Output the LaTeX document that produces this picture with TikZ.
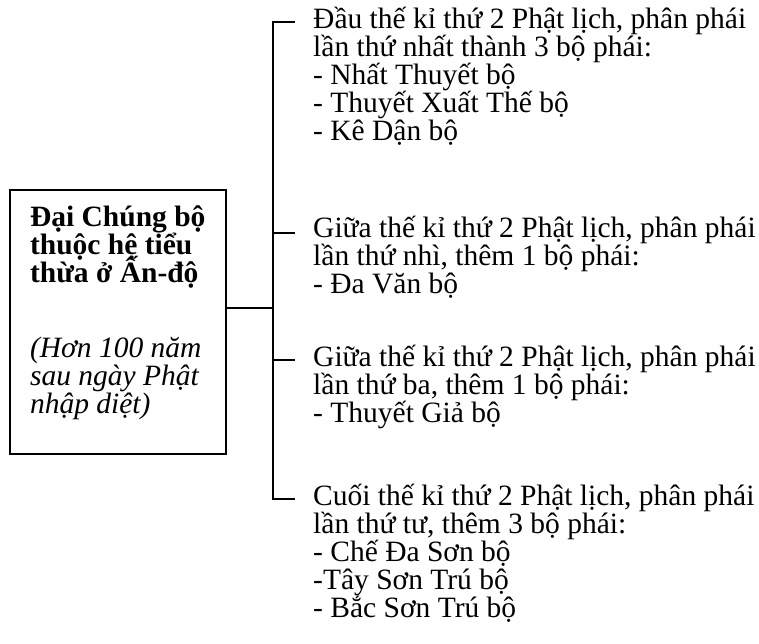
\documentclass[tikz,border=0pt]{standalone}
\usepackage{fontspec}
\setmainfont{Liberation Serif}
\usetikzlibrary{positioning}
\newcommand{\treefont}{\fontsize{29.5pt}{28pt}\selectfont\lineskiplimit=-100pt\relax}

\begin{document}
\begin{tikzpicture}[
    x=1pt, y=-1pt,
    rootbox/.style={
        rectangle,
        draw=black,
        line width=2pt,
        align=left,
        inner xsep=19.5pt,
        inner ysep=0pt,
        minimum width=216.5pt,
        anchor=north west,
        font=\treefont
    },
    branch/.style={
        rectangle,
        inner sep=0pt,
        align=left,
        anchor=north west,
        font=\treefont
    },
    link/.style={
        line width=2pt,
        black
    }
]
\useasboundingbox (0,0) rectangle (759,644);

% Root: Dai Chung bo
\node[rootbox] (root) at (8.5,189) {
    \rule{0pt}{36.7pt}\textbf{Đại Chúng bộ}\\
    \textbf{thuộc hệ tiểu}\\
    \textbf{thừa ở Ấn-độ}\\[47pt]
    \textit{(Hơn 100 năm}\\
    \textit{sau ngày Phật}\\
    \textit{nhập diệt)}\rule[-40pt]{0pt}{0pt}
};

% Branch 1: lan thu nhat
\node[branch] (first) at (313,-1.7) {
    \rule{0pt}{30pt}Đầu thế kỉ thứ 2 Phật lịch, phân phái\\
    lần thứ nhất thành 3 bộ phái:\\
    - Nhất Thuyết bộ\\
    - Thuyết Xuất Thế bộ\\
    - Kê Dận bộ
};

% Branch 2: lan thu nhi
\node[branch] (second) at (313,207.7) {
    \rule{0pt}{30pt}Giữa thế kỉ thứ 2 Phật lịch, phân phái\\
    lần thứ nhì, thêm 1 bộ phái:\\
    - Đa Văn bộ
};

% Branch 3: lan thu ba
\node[branch] (third) at (313,336.7) {
    \rule{0pt}{30pt}Giữa thế kỉ thứ 2 Phật lịch, phân phái\\
    lần thứ ba, thêm 1 bộ phái:\\
    - Thuyết Giả bộ
};

% Branch 4: lan thu tu
\node[branch] (fourth) at (313,475) {
    \rule{0pt}{30pt}Cuối thế kỉ thứ 2 Phật lịch, phân phái\\
    lần thứ tư, thêm 3 bộ phái:\\
    - Chế Đa Sơn bộ\\
    -Tây Sơn Trú bộ\\
    - Bắc Sơn Trú bộ
};

% Bracket points
\coordinate (join) at (273,308);
\coordinate (tip1) at (273,22);
\coordinate (tip2) at (273,233);
\coordinate (tip3) at (273,360);
\coordinate (tip4) at (273,499);

% Connectors
\draw[link] (root.east |- join) -- (join);
\draw[link] ([xshift=-18pt]first.west |- tip1) -- (tip1) -- (tip4) -- ([xshift=-18pt]fourth.west |- tip4);
\draw[link] (tip2) -- ([xshift=-18pt]second.west |- tip2);
\draw[link] (tip3) -- ([xshift=-18pt]third.west |- tip3);

\end{tikzpicture}
\end{document}
